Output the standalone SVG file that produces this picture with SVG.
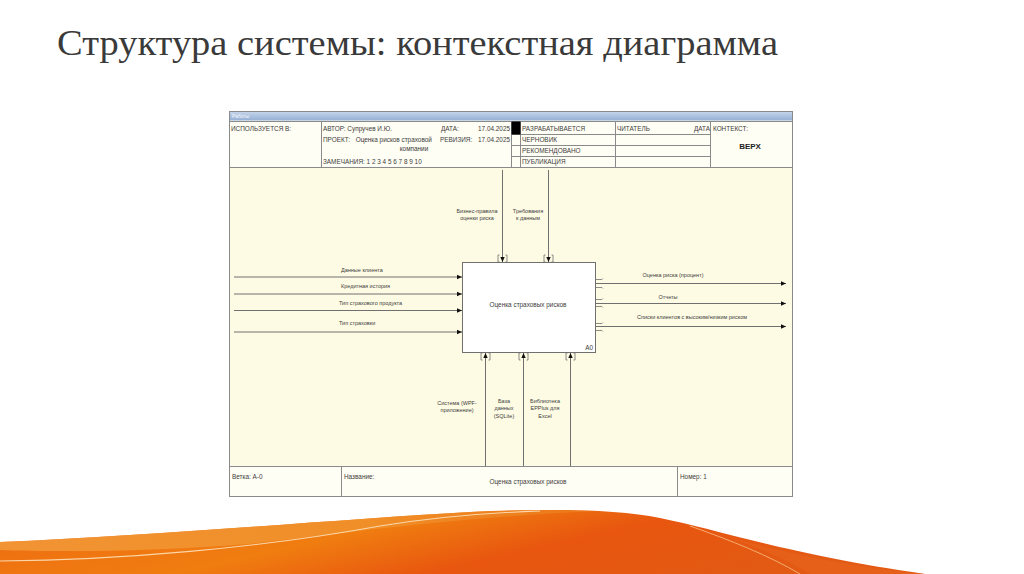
<svg xmlns="http://www.w3.org/2000/svg" width="1024" height="574" viewBox="0 0 1024 574">
<defs>
<style>
.ln{stroke:#707070;stroke-width:1;fill:none}
.fr{stroke:#8a8a8a;stroke-width:1;fill:none}
.t{font-family:"Liberation Sans",Arial,sans-serif;fill:#3c3c3c}
.h{font-size:6.4px}
.s{font-size:5.5px}
.m{text-anchor:middle}
.e{text-anchor:end}
.br{stroke:#707070;stroke-width:0.8;fill:none}
</style>
<marker id="arr" markerWidth="6" markerHeight="6" refX="5" refY="3" orient="auto" markerUnits="userSpaceOnUse">
<path d="M0,0.8 L5,3 L0,5.2 Z" fill="#111"/>
</marker>
<linearGradient id="bar" x1="0" y1="0" x2="0" y2="1">
<stop offset="0" stop-color="#c4d4ea"/>
<stop offset="1" stop-color="#94afd4"/>
</linearGradient>
<linearGradient id="wv" x1="0" y1="0" x2="1" y2="0.3">
<stop offset="0" stop-color="#ee6a12"/>
<stop offset="0.45" stop-color="#f07d10"/>
<stop offset="0.7" stop-color="#e8560f"/>
<stop offset="1" stop-color="#e35a14"/>
</linearGradient>
<linearGradient id="wv2" x1="0" y1="0" x2="1" y2="0">
<stop offset="0" stop-color="#f29a3a"/>
<stop offset="0.6" stop-color="#f0922c"/>
<stop offset="1" stop-color="#ec7a1c"/>
</linearGradient>
</defs>
<rect width="1024" height="574" fill="#ffffff"/>
<text x="57" y="55" font-family="Liberation Serif,'Times New Roman',serif" font-size="36" textLength="721" lengthAdjust="spacingAndGlyphs" fill="#3a3a3a">Структура системы: контекстная диаграмма</text>

<g id="frame">
<rect x="229.5" y="111.5" width="563" height="385" fill="#fffef4" stroke="#8a8a8a"/>
<rect x="230" y="112" width="562" height="8.5" fill="url(#bar)"/>
<text class="t" x="232" y="118" font-size="5" style="fill:#f4f6fa">Работы</text>
<rect x="229.5" y="121.5" width="563" height="46" fill="#fffef4" class="fr"/>
<rect x="230" y="167.5" width="562" height="298" fill="#fefbe4"/>
<line class="fr" x1="229.5" y1="167.5" x2="792.5" y2="167.5"/>
<line class="fr" x1="229.5" y1="466.5" x2="792.5" y2="466.5"/>
<line class="fr" x1="321.5" y1="121.5" x2="321.5" y2="167.5"/>
<line class="fr" x1="511.5" y1="121.5" x2="511.5" y2="167.5"/>
<line class="fr" x1="520.5" y1="121.5" x2="520.5" y2="167.5"/>
<line class="fr" x1="615.5" y1="121.5" x2="615.5" y2="167.5"/>
<line class="fr" x1="710.5" y1="121.5" x2="710.5" y2="167.5"/>
<line class="fr" x1="511.5" y1="134.5" x2="710.5" y2="134.5"/>
<line class="fr" x1="511.5" y1="145.5" x2="710.5" y2="145.5"/>
<line class="fr" x1="511.5" y1="156.5" x2="710.5" y2="156.5"/>
<rect x="511.5" y="121.5" width="9" height="13" fill="#000"/>
<text class="t h" x="231" y="131">ИСПОЛЬЗУЕТСЯ В:</text>
<text class="t h" x="323" y="131">АВТОР: Супручев И.Ю.</text>
<text class="t h" x="441" y="131">ДАТА:</text>
<text class="t h e" x="510" y="131">17.04.2025</text>
<text class="t h" x="323" y="142" xml:space="preserve">ПРОЕКТ:   Оценка рисков страховой</text>
<text class="t h" x="440" y="142">РЕВИЗИЯ:</text>
<text class="t h e" x="510" y="142">17.04.2025</text>
<text class="t h m" x="414" y="151">компании</text>
<text class="t h" x="323" y="164">ЗАМЕЧАНИЯ: 1 2 3 4 5 6 7 8 9 10</text>
<text class="t h" x="522" y="131">РАЗРАБАТЫВАЕТСЯ</text>
<text class="t h" x="522" y="142">ЧЕРНОВИК</text>
<text class="t h" x="522" y="153">РЕКОМЕНДОВАНО</text>
<text class="t h" x="522" y="164">ПУБЛИКАЦИЯ</text>
<text class="t h" x="617" y="131">ЧИТАТЕЛЬ</text>
<text class="t h e" x="710" y="131">ДАТА</text>
<text class="t h" x="713" y="131">КОНТЕКСТ:</text>
<text class="t m" x="750" y="149" font-size="8" font-weight="bold" style="fill:#222">ВЕРХ</text>
<line class="fr" x1="341.5" y1="466.5" x2="341.5" y2="496.5"/>
<line class="fr" x1="677.5" y1="466.5" x2="677.5" y2="496.5"/>
<text class="t h" x="232" y="479">Ветка: A-0</text>
<text class="t h" x="344" y="479">Название:</text>
<text class="t h m" x="528" y="484">Оценка страховых рисков</text>
<text class="t h" x="680" y="479">Номер: 1</text>
</g>

<g id="A0">
<rect x="462.5" y="262.5" width="133" height="90" fill="#ffffff" stroke="#707070"/>
<text class="t h m" x="528" y="307">Оценка страховых рисков</text>
<text class="t h e" x="593" y="350">A0</text>
</g>

<g id="connectors">
<g id="in1"><line class="ln" x1="234" y1="277" x2="462" y2="277" marker-end="url(#arr)"/><text class="t s" x="341" y="272">Данные клиента</text></g>
<g id="in2"><line class="ln" x1="234" y1="294" x2="462" y2="294" marker-end="url(#arr)"/><text class="t s" x="341" y="288">Кредитная история</text></g>
<g id="in3"><line class="ln" x1="234" y1="310.5" x2="462" y2="310.5" marker-end="url(#arr)"/><text class="t s" x="339" y="305">Тип страхового продукта</text></g>
<g id="in4"><line class="ln" x1="234" y1="332" x2="462" y2="332" marker-end="url(#arr)"/><text class="t s" x="339" y="325">Тип страховки</text></g>

<g id="out1"><line class="ln" x1="596" y1="283.5" x2="786" y2="283.5" marker-end="url(#arr)"/><path class="br" d="M596 279.5h6l1-1M596 287.5h6l1 1"/><text class="t s m" x="673" y="277">Оценка риска (процент)</text></g>
<g id="out2"><line class="ln" x1="596" y1="303.5" x2="786" y2="303.5" marker-end="url(#arr)"/><path class="br" d="M596 299.5h6l1-1M596 306.5h6l1 1"/><text class="t s m" x="668" y="299">Отчеты</text></g>
<g id="out3"><line class="ln" x1="596" y1="326.5" x2="786" y2="326.5" marker-end="url(#arr)"/><path class="br" d="M596 323.5h6l1-1M596 330.5h6l1 1"/><text class="t s m" x="692" y="319">Списки клиентов с высоким/низким риском</text></g>

<g id="ctl1"><line class="ln" x1="502.5" y1="170" x2="502.5" y2="262" marker-end="url(#arr)"/><path class="br" d="M499.5 255h-1.5v7h1.5M505.5 255h1.5v7h-1.5"/><text class="t s m" x="477" y="213">Бизнес-правила</text><text class="t s m" x="477" y="220">оценки риска</text></g>
<g id="ctl2"><line class="ln" x1="548.5" y1="170" x2="548.5" y2="262" marker-end="url(#arr)"/><path class="br" d="M545.5 255h-1.5v7h1.5M551.5 255h1.5v7h-1.5"/><text class="t s m" x="528" y="213">Требования</text><text class="t s m" x="528" y="220">к данным</text></g>

<g id="mech1"><line class="ln" x1="485.5" y1="466" x2="485.5" y2="353" marker-end="url(#arr)"/><path class="br" d="M482.5 353h-1.5v7h1.5M488.5 353h1.5v7h-1.5"/><text class="t s m" x="457" y="405">Система (WPF-</text><text class="t s m" x="457" y="412">приложение)</text></g>
<g id="mech2"><line class="ln" x1="523.5" y1="466" x2="523.5" y2="353" marker-end="url(#arr)"/><path class="br" d="M520.5 353h-1.5v7h1.5M526.5 353h1.5v7h-1.5"/><text class="t s m" x="504" y="403">База</text><text class="t s m" x="504" y="410">данных</text><text class="t s m" x="504" y="418">(SQLite)</text></g>
<g id="mech3"><line class="ln" x1="570.5" y1="466" x2="570.5" y2="353" marker-end="url(#arr)"/><path class="br" d="M567.5 353h-1.5v7h1.5M573.5 353h1.5v7h-1.5"/><text class="t s m" x="545" y="403">Библиотека</text><text class="t s m" x="545" y="410">EPPlus для</text><text class="t s m" x="545" y="418">Excel</text></g>
</g>

<g id="wave">
<path d="M0 542 C150 536 330 520 470 512 C560 508 620 510 660 518 C720 530 790 555 925 574 L0 574 Z" fill="url(#wv)"/>
<path d="M0 542 C150 536 330 520 470 512 C520 510 560 510 600 511 C480 516 380 528 250 544 C150 552 60 552 0 550 Z" fill="url(#wv2)" opacity="0.85"/>
<path d="M0 561 C120 560 260 548 380 526 C430 518 480 513 540 511" stroke="#fde0b8" stroke-width="1.1" fill="none" opacity="0.9"/>
<path d="M690 526 C730 540 770 556 800 574" stroke="#f6b47a" stroke-width="1" fill="none" opacity="0.9"/>
<path d="M700 528 C760 548 840 566 925 574 L810 574 C780 556 740 540 700 528 Z" fill="#e8641e" opacity="0.6"/>
</g>
</svg>
